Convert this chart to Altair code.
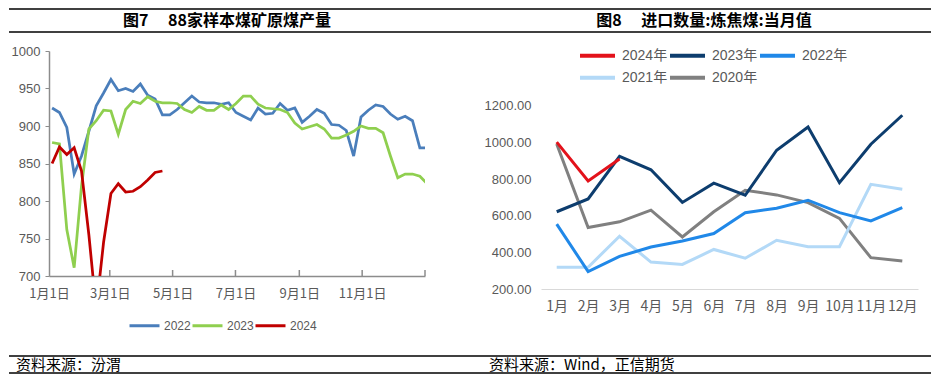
import altair as alt
import pandas as pd

# ---------------- left chart: 88家样本煤矿原煤产量 (weekly) ----------------
years_left = ["2022", "2023", "2024"]
prod_2022 = [924, 918, 898, 836, 860, 893, 927, 944, 962, 947, 950, 946, 956, 941, 936, 915,
             915, 922, 931, 940, 932, 931, 931, 929, 931, 918,
             913, 908, 924, 916, 917, 930, 921, 924, 905, 913, 922, 917, 902, 901, 894, 860,
             912, 921, 928, 926, 916, 909, 913, 907, 871, 871]
prod_2023 = [878, 876, 762, 711, 820, 896, 907, 921, 920, 889, 922, 933, 930, 939, 933, 931,
             931, 930, 922, 918, 926, 921, 921, 928, 922, 930,
             940, 940, 929, 924, 923, 922, 918, 904, 896, 899, 902, 896, 884, 884, 888, 893,
             900, 897, 897, 891, 860, 831, 836, 836, 833, 823]
prod_2024 = [850, 872, 862, 871, 840, 755, 655, 745, 810, 823, 812, 813, 819, 828, 838, 840]
first_day = 3
week_step_days = 7.14
left_y_ticks = [700, 750, 800, 850, 900, 950, 1000]
left_label_months = [1, 3, 5, 7, 9, 11]
left_tick_dates = ["2022-03-01", "2022-05-01", "2022-07-01", "2022-09-01", "2022-11-01", "2023-01-01"]
left_colors = ["#4A7EBB", "#8FCF4F", "#C00000"]

# ---------------- right chart: 进口数量:炼焦煤:当月值 ----------------
months = ["1月", "2月", "3月", "4月", "5月", "6月", "7月", "8月", "9月", "10月", "11月", "12月"]
series_row1 = ["2024年", "2023年", "2022年"]
series_row2 = ["2021年", "2020年"]
imp_2024 = [1002, 790, 910]
imp_2023 = [622, 692, 925, 851, 673, 778, 712, 958, 1085, 781, 991, 1149]
imp_2022 = [554, 295, 378, 429, 462, 503, 617, 641, 685, 617, 572, 644]
imp_2021 = [319, 319, 488, 347, 334, 416, 368, 466, 431, 431, 772, 745]
imp_2020 = [992, 536, 567, 631, 484, 622, 739, 714, 672, 586, 371, 353]
right_y_ticks = [200, 400, 600, 800, 1000, 1200]
colors_row1 = ["#E3121B", "#0D3D6E", "#2088E8"]
colors_row2 = ["#B3D9F7", "#808080"]

CJK = "Noto Sans CJK SC"
NUM = "Liberation Sans"
LABEL_GRAY = "#595959"
AXIS_GRAY = "#8C8C8C"

# ---- build tables ----
base = pd.Timestamp("2022-01-01")
rows = []
for yr, vals in zip(years_left, [prod_2022, prod_2023, prod_2024]):
    for k, v in enumerate(vals):
        rows.append({"date": base + pd.Timedelta(days=first_day + week_step_days * k),
                     "year": yr, "value": v})
left_df = pd.DataFrame(rows)
tick_df = pd.DataFrame({"date": pd.to_datetime(left_tick_dates)})


def month_table(names, series):
    out = []
    for name, vals in zip(names, series):
        for m, v in zip(months, vals):
            out.append({"month": m, "series": name, "value": v})
    return pd.DataFrame(out)


right_df2 = month_table(["2020年", "2021年"], [imp_2020, imp_2021])
right_df1 = month_table(["2022年", "2023年", "2024年"], [imp_2022, imp_2023, imp_2024])

one = pd.DataFrame({"k": [0]})


def hline(x1, x2, y):
    return alt.Chart(one).mark_rule(color="black", strokeWidth=1.5).encode(
        x=alt.value(x1), x2=alt.value(x2), y=alt.value(y))


def text(x, y, s, size, weight, align):
    return alt.Chart(one).mark_text(
        fontSize=size, fontWeight=weight, font=CJK, color="black",
        align=align, baseline="middle").encode(
        x=alt.value(x), y=alt.value(y), text=alt.value(s))


# ---------------- left panel ----------------
W1, H1 = 376, 225
x_scale_l = alt.Scale(domain=[alt.DateTime(year=2022, month=1, date=1),
                              alt.DateTime(year=2023, month=1, date=1)], nice=False)
x_axis_l = alt.Axis(values=[alt.DateTime(year=2022, month=m, date=1) for m in left_label_months],
                    format="%-m月%-d日", title=None, ticks=False, grid=False,
                    domainColor=AXIS_GRAY, domainWidth=1.5, labelColor=LABEL_GRAY,
                    labelFont=CJK, labelFontSize=13, labelPadding=11, labelOverlap=False,
                    labelFlush=False, labelAlign="center")
y_axis_l = alt.Axis(values=left_y_ticks, format="d", title=None, grid=False, domainColor=AXIS_GRAY,
                    domainWidth=1.5, tickColor=AXIS_GRAY, tickSize=4, labelColor=LABEL_GRAY,
                    labelFont=NUM, labelFontSize=13, labelPadding=5)

left_lines = alt.Chart(left_df).mark_line(strokeWidth=2.75, clip=True).encode(
    x=alt.X("date:T", scale=x_scale_l, axis=x_axis_l),
    y=alt.Y("value:Q", scale=alt.Scale(domain=[700, 1000], nice=False, zero=False), axis=y_axis_l),
    color=alt.Color("year:N", scale=alt.Scale(domain=years_left, range=left_colors),
                    legend=alt.Legend(orient="none", legendX=79, legendY=258, direction="horizontal",
                                      title=None, symbolType="stroke", symbolSize=900,
                                      symbolStrokeWidth=3, labelFontSize=12, labelColor=LABEL_GRAY,
                                      labelFont=NUM, labelOffset=3, columnPadding=-6, padding=0)),
)
left_ticks = alt.Chart(tick_df).mark_rule(color=AXIS_GRAY, strokeWidth=1.5).encode(
    x=alt.X("date:T", scale=x_scale_l, axis=x_axis_l),
    y=alt.value(H1), y2=alt.value(H1 - 6))

left = alt.layer(
    left_lines, left_ticks,
    hline(-40, 422, -42), hline(-40, 422, -19),
    text(178, -30.5, "图7\u3000  88家样本煤矿原煤产量", 16, "bold", "center"),
    hline(-40, 422, 305), hline(-40, 422, 322),
    text(-33, 313.5, "资料来源：汾渭", 15, "normal", "left"),
).properties(width=W1, height=H1)

# ---------------- right panel ----------------
W2, H2 = 377, 238
x_r = alt.X("month:N", sort=months, scale=alt.Scale(type="point", padding=0.5),
            axis=alt.Axis(title=None, ticks=False, grid=False, domainColor="#D9D9D9",
                          domainWidth=1.2, labelColor=LABEL_GRAY, labelFont=CJK,
                          labelFontSize=14, labelAngle=0, labelPadding=10, labelOverlap=False))
y_r = alt.Y("value:Q", scale=alt.Scale(domain=[200, 1500], nice=False, zero=False),
            axis=alt.Axis(values=right_y_ticks, format=".2f", title=None, grid=False,
                          domain=False, ticks=False, labelColor=LABEL_GRAY, labelFont=NUM,
                          labelFontSize=13, labelPadding=10))


def legend_row(y):
    return alt.Legend(orient="none", legendX=37, legendY=y, direction="horizontal",
                      title=None, symbolType="stroke", symbolSize=1225,
                      symbolStrokeWidth=4, labelFontSize=14,
                      labelColor=LABEL_GRAY, labelFont=NUM + ", " + CJK,
                      labelOffset=5, columnPadding=-8, padding=0)


right_lines2 = alt.Chart(right_df2).mark_line(strokeWidth=3).encode(
    x=x_r, y=y_r,
    stroke=alt.Stroke("series:N", scale=alt.Scale(domain=series_row2, range=colors_row2),
                      legend=legend_row(7)),
)
right_lines1 = alt.Chart(right_df1).mark_line(strokeWidth=3).encode(
    x=x_r, y=y_r,
    color=alt.Color("series:N", scale=alt.Scale(domain=series_row1, range=colors_row1),
                    legend=legend_row(-15)),
)

right = alt.layer(
    right_lines2, right_lines1,
    hline(-70, 390, -42), hline(-70, 390, -19),
    text(163, -30.5, "图8\u3000  进口数量:炼焦煤:当月值", 16, "bold", "center"),
    hline(-70, 390, 305), hline(-70, 390, 322),
    text(-52, 313.5, "资料来源：Wind，正信期货", 15, "normal", "left"),
).properties(width=W2, height=H2)

chart = alt.hconcat(left, right, spacing=116, bounds="flush").resolve_scale(
    color="independent", stroke="independent", x="independent", y="independent"
).resolve_legend(color="independent", stroke="independent").properties(padding=0).configure_view(strokeWidth=0)

chart.save("out.html", embed_options={"renderer": "svg", "actions": False})
